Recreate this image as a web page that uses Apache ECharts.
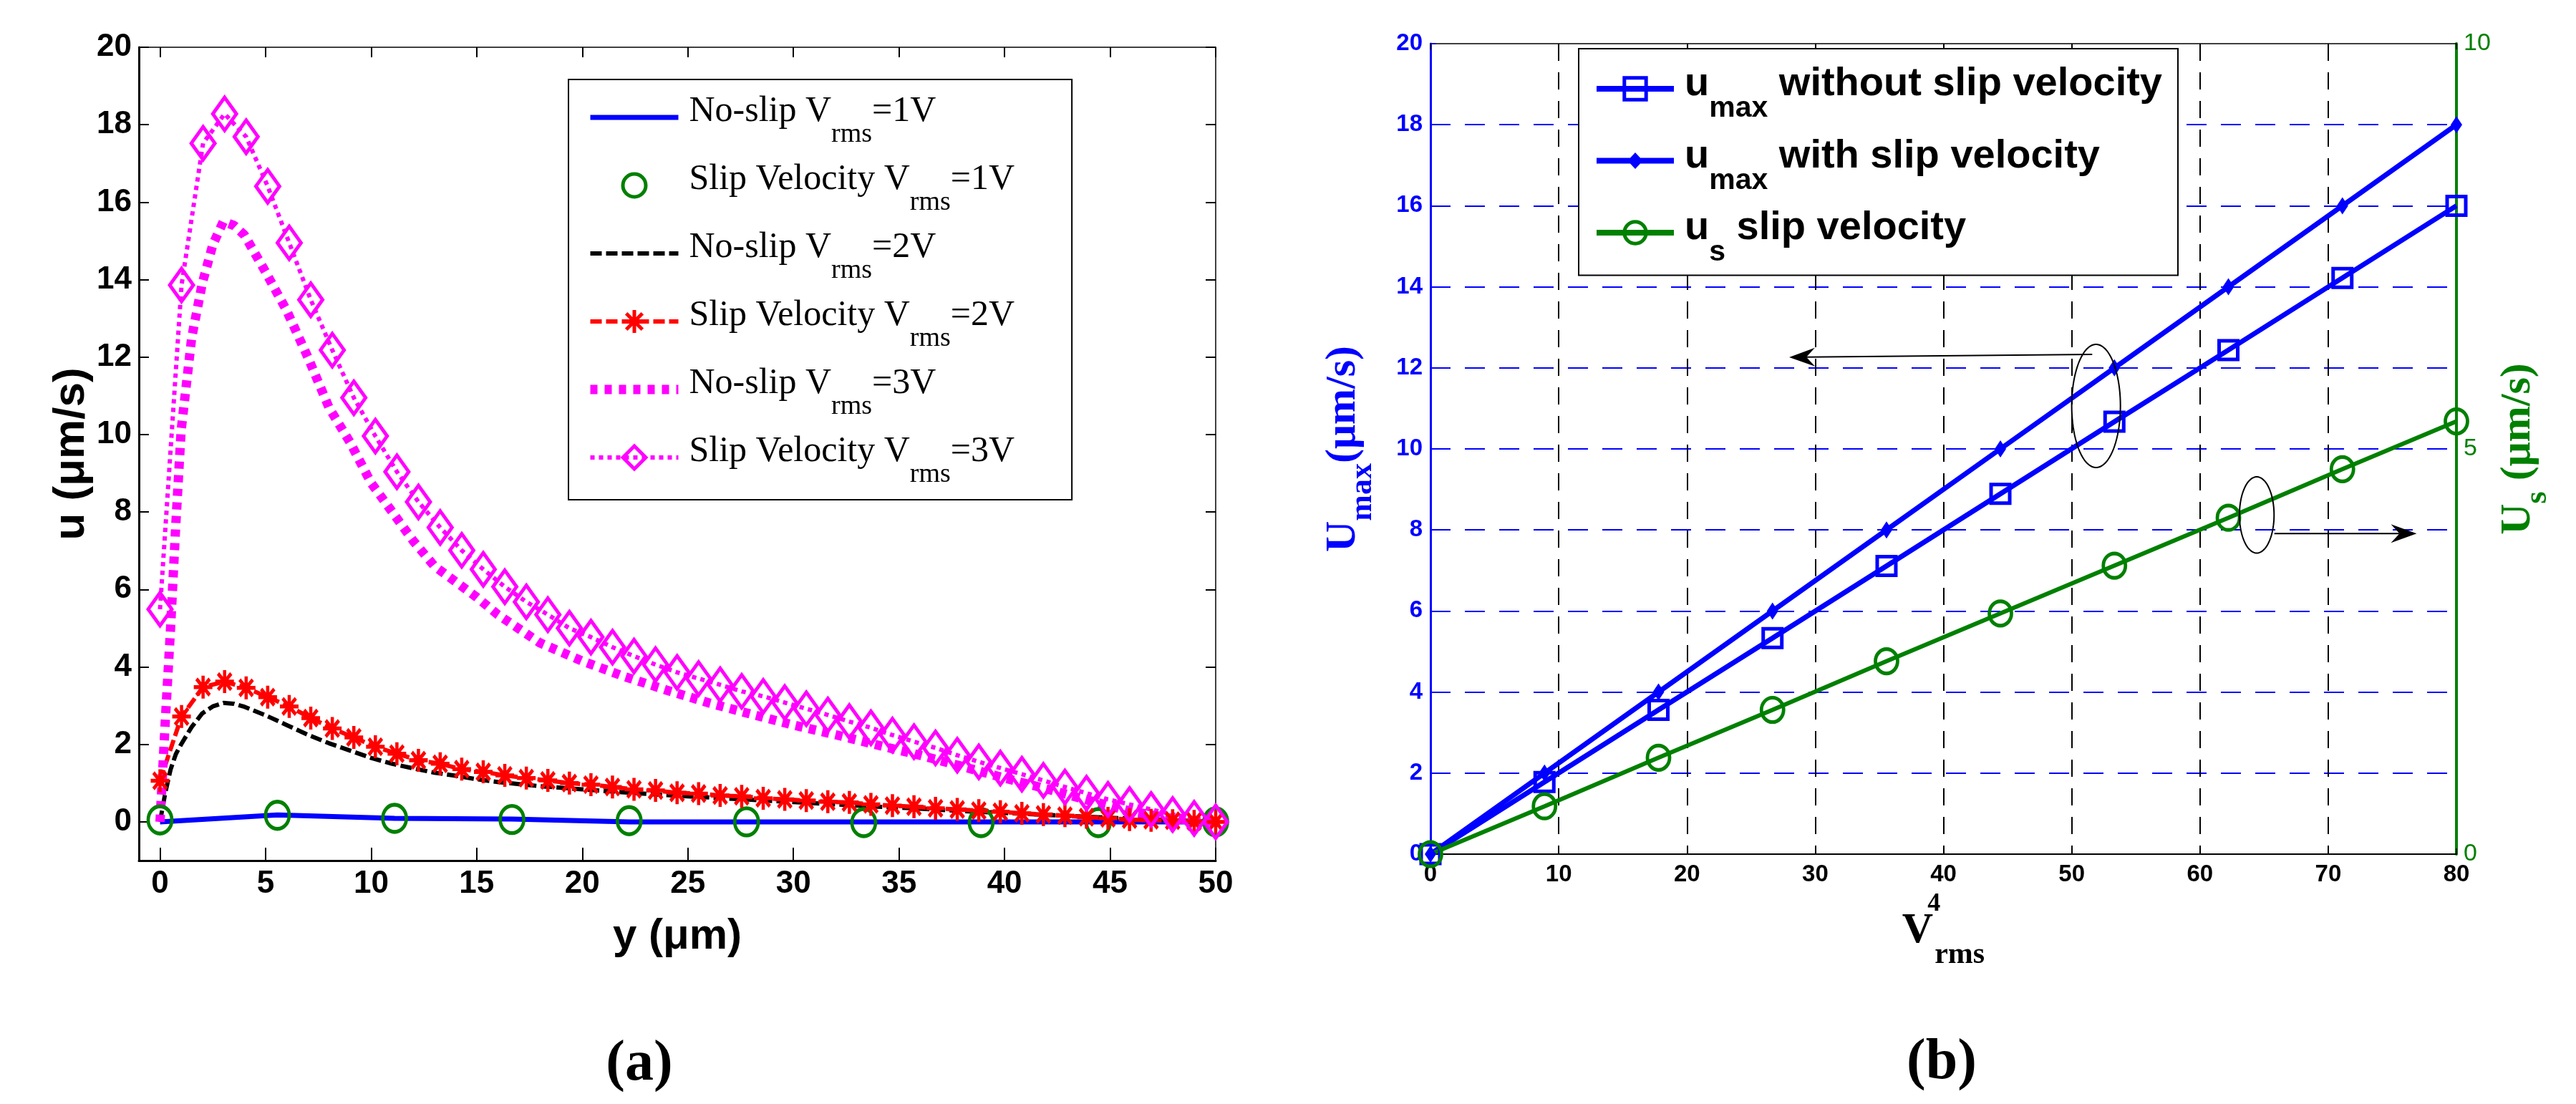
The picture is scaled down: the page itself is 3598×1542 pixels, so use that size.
<!DOCTYPE html>
<html>
<head>
<meta charset="utf-8">
<script src="https://cdn.jsdelivr.net/npm/echarts@6/dist/echarts.min.js"></script>
<style>
html,body{margin:0;padding:0;background:#fff;}
#c{width:3598px;height:1542px;}
</style>
</head>
<body>
<div id="c"></div>
<script>
// ---------------- DATA (panel a) ----------------
const xFine = [0, 1.02, 2.04, 3.06, 4.08, 5.1, 6.12, 7.14, 8.16, 9.18, 10.2, 11.22, 12.24, 13.27, 14.29, 15.31, 16.33, 17.35, 18.37, 19.39, 20.41, 21.43, 22.45, 23.47, 24.49, 25.51, 26.53, 27.55, 28.57, 29.59, 30.61, 31.63, 32.65, 33.67, 34.69, 35.71, 36.73, 37.76, 38.78, 39.8, 40.82, 41.84, 42.86, 43.88, 44.9, 45.92, 46.94, 47.96, 48.98, 50];
const slip3V = [5.49, 13.86, 17.52, 18.28, 17.69, 16.41, 14.95, 13.48, 12.18, 10.95, 9.96, 9.04, 8.26, 7.6, 7.01, 6.52, 6.07, 5.68, 5.35, 5.0, 4.77, 4.51, 4.28, 4.06, 3.86, 3.7, 3.54, 3.37, 3.24, 3.08, 2.92, 2.76, 2.59, 2.43, 2.24, 2.07, 1.91, 1.72, 1.55, 1.39, 1.23, 1.07, 0.9, 0.74, 0.58, 0.45, 0.32, 0.19, 0.09, 0.0];
const slip2V = [1.06, 2.72, 3.48, 3.62, 3.46, 3.22, 2.98, 2.68, 2.41, 2.18, 1.94, 1.76, 1.59, 1.5, 1.36, 1.29, 1.2, 1.13, 1.07, 1.0, 0.96, 0.9, 0.84, 0.81, 0.75, 0.73, 0.68, 0.66, 0.61, 0.58, 0.55, 0.52, 0.5, 0.45, 0.42, 0.39, 0.35, 0.32, 0.29, 0.26, 0.22, 0.19, 0.16, 0.12, 0.09, 0.06, 0.04, 0.03, 0.01, 0.0];
const xNoSlip = [0, 0.25, 0.5, 0.75, 1, 1.5, 2, 2.5, 3, 3.5, 4, 5, 6, 7, 8, 9, 10, 11, 12, 13, 14, 15, 16, 18, 20, 22, 24, 26, 28, 30, 32, 34, 36, 38, 40, 42, 44, 46, 48, 50];
const noSlip3V = [0, 2.6, 5.0, 7.7, 10.1, 12.5, 13.9, 14.9, 15.5, 15.4, 15.15, 14.2, 13.2, 12.0, 10.7, 9.8, 8.75, 8.0, 7.25, 6.6, 6.2, 5.8, 5.35, 4.62, 4.15, 3.75, 3.4, 3.07, 2.78, 2.5, 2.25, 1.98, 1.72, 1.43, 1.13, 0.85, 0.55, 0.27, 0.08, 0];
const noSlip2V = [0, 0.75, 1.35, 1.75, 2.0, 2.45, 2.8, 2.98, 3.07, 3.05, 2.97, 2.75, 2.5, 2.25, 2.03, 1.84, 1.65, 1.5, 1.38, 1.27, 1.19, 1.1, 1.03, 0.92, 0.84, 0.76, 0.69, 0.63, 0.57, 0.51, 0.45, 0.39, 0.34, 0.28, 0.23, 0.18, 0.13, 0.08, 0.04, 0];
const xCoarse = [0, 5.56, 11.11, 16.67, 22.22, 27.78, 33.33, 38.89, 44.44, 50];
const noSlip1V = [0, 0.18, 0.09, 0.07, 0, 0, 0, 0, 0, 0];
const slip1V = [0.05, 0.17, 0.09, 0.06, 0.03, 0, -0.02, -0.02, -0.02, 0];
const xTicksA = [0, 5, 10, 15, 20, 25, 30, 35, 40, 45, 50];
const yTicksA = [0, 2, 4, 6, 8, 10, 12, 14, 16, 18, 20];
const namesA = ['No-slip Vrms=1V', 'Slip Velocity Vrms=1V', 'No-slip Vrms=2V', 'Slip Velocity Vrms=2V', 'No-slip Vrms=3V', 'Slip Velocity Vrms=3V'];

// ---------------- DATA (panel b) ----------------
const xV4 = [0, 8.89, 17.78, 26.67, 35.56, 44.44, 53.33, 62.22, 71.11, 80];
const umaxNoSlip = [0, 1.78, 3.56, 5.33, 7.11, 8.89, 10.67, 12.44, 14.22, 16];
const umaxSlip = [0, 2, 4, 6, 8, 10, 12, 14, 16, 18];
const usSlip = [0, 0.59, 1.19, 1.78, 2.38, 2.97, 3.56, 4.15, 4.75, 5.34];
const namesB = ['umax without slip velocity', 'umax with slip velocity', 'us slip velocity'];
// annotation marks in data units of panel b (left axis)
const annEllipses = [[51.9, 11.06, 1.9, 1.52], [64.43, 8.37, 1.35, 0.94]];
const annArrows = [[51.6, 12.33, 27.97, 12.26], [65.8, 7.91, 76.9, 7.91]];

// ---------------- CHART ----------------
const zip = (xs, ys) => xs.map((x, i) => [x, ys[i]]);
const BLUE = '#0000ff', GREEN = '#008000', RED = '#ff0000', MAG = '#ff00ff', T = 'rgba(0,0,0,0)';
const SANS = '"Liberation Sans", Arial, sans-serif';
const SERIF = '"Liberation Serif", "Times New Roman", serif';
const ASTERISK = 'path://M12,0L12,24M0,12L24,12M3.5,3.5L20.5,20.5M3.5,20.5L20.5,3.5';
const LEG_DIAMOND_LINE = 'path://M0,15L47,15L54,7.5L61,15L108,15L108,23L61,23L54,30.5L47,23L0,23Z';

const chart = echarts.init(document.getElementById('c'), null, {renderer: 'canvas', width: 3598, height: 1542});

function renderEllipse(params, api) {
  const c = api.coord([api.value(0), api.value(1)]);
  const s = api.size([api.value(2), api.value(3)]);
  const rx = Math.abs(s[0]), ry = Math.abs(s[1]);
  const pts = [];
  for (let k = 0; k <= 90; k++) {
    const t = k / 90 * Math.PI * 2;
    pts.push([c[0] + rx * Math.cos(t), c[1] + ry * Math.sin(t)]);
  }
  return {type: 'polyline', shape: {points: pts}, style: {fill: 'none', stroke: '#000', lineWidth: 2}};
}
function renderArrow(params, api) {
  const p1 = api.coord([api.value(0), api.value(1)]);
  const p2 = api.coord([api.value(2), api.value(3)]);
  const dx = p2[0] - p1[0], dy = p2[1] - p1[1];
  const len = Math.sqrt(dx * dx + dy * dy);
  const ux = dx / len, uy = dy / len, px = -uy, py = ux;
  const L = 36, W = 13, N = 24;
  const back = [p2[0] - ux * L, p2[1] - uy * L];
  const notch = [p2[0] - ux * N, p2[1] - uy * N];
  return {
    type: 'group',
    children: [
      {type: 'line', shape: {x1: p1[0], y1: p1[1], x2: notch[0], y2: notch[1]}, style: {stroke: '#000', lineWidth: 2}},
      {type: 'polygon', shape: {points: [p2, [back[0] + px * W, back[1] + py * W], notch, [back[0] - px * W, back[1] - py * W]]}, style: {fill: '#000'}}
    ]
  };
}

const legendARich = {
  m: {fontFamily: SERIF, fontSize: 50, height: 74, lineHeight: 74, verticalAlign: 'top', color: '#000'},
  s: {fontFamily: SERIF, fontSize: 38, height: 42, lineHeight: 42, verticalAlign: 'bottom', color: '#000'},
  p: {fontSize: 10, lineHeight: 90, verticalAlign: 'middle'}
};
const legendBRich = {
  m: {fontFamily: SANS, fontWeight: 'bold', fontSize: 56, height: 84, lineHeight: 84, verticalAlign: 'top', color: '#000'},
  s: {fontFamily: SANS, fontWeight: 'bold', fontSize: 41, height: 40, lineHeight: 40, verticalAlign: 'bottom', color: '#000'},
  p: {fontSize: 10, lineHeight: 96, verticalAlign: 'middle'}
};

const option = {
  backgroundColor: '#fff',
  animation: false,
  textStyle: {fontFamily: SANS},
  grid: [
    {left: 194, top: 66, width: 1504, height: 1136},
    {left: 1998, top: 61, width: 1433, height: 1132}
  ],
  xAxis: [
    {
      gridIndex: 0, type: 'value', position: 'bottom', min: -1, max: 50,
      axisLine: {onZero: false, lineStyle: {color: '#000', width: 3}},
      axisTick: {inside: true, length: 18, customValues: xTicksA, lineStyle: {color: '#000', width: 2}},
      axisLabel: {customValues: xTicksA, fontSize: 44, fontWeight: 'bold', color: '#000', margin: 11, fontFamily: SANS},
      splitLine: {show: false},
      name: 'y (μm)', nameLocation: 'middle', nameGap: 76,
      nameTextStyle: {fontSize: 60, fontWeight: 'bold', color: '#000', lineHeight: 60, fontFamily: SANS}
    },
    {
      gridIndex: 0, type: 'value', position: 'top', min: -1, max: 50,
      axisLine: {onZero: false, lineStyle: {color: '#000', width: 1.5}},
      axisTick: {inside: true, length: 14, customValues: xTicksA, lineStyle: {color: '#000', width: 2}},
      axisLabel: {show: false}, splitLine: {show: false}
    },
    {
      gridIndex: 1, type: 'value', position: 'bottom', min: 0, max: 80, interval: 10,
      axisLine: {onZero: false, lineStyle: {color: '#000', width: 2}},
      axisTick: {inside: true, length: 8, lineStyle: {color: '#000', width: 1.5}},
      axisLabel: {fontSize: 33, fontWeight: 'bold', color: '#000', margin: 12, fontFamily: SANS},
      splitLine: {show: true, showMinLine: false, showMaxLine: false, lineStyle: {color: '#000', width: 2, type: [24, 16]}},
      name: '{v|V}{sup|4}{sub|rms}', nameLocation: 'middle', nameGap: 52,
      nameTextStyle: {
        rich: {
          v: {fontFamily: SERIF, fontWeight: 'bold', fontSize: 60, lineHeight: 110, verticalAlign: 'middle', color: '#000'},
          sup: {fontFamily: SERIF, fontWeight: 'bold', fontSize: 36, lineHeight: 82, verticalAlign: 'top', width: 2, color: '#000'},
          sub: {fontFamily: SERIF, fontWeight: 'bold', fontSize: 42, lineHeight: 28, verticalAlign: 'bottom', color: '#000'}
        }
      }
    },
    {
      gridIndex: 1, type: 'value', position: 'top', min: 0, max: 80, interval: 10,
      axisLine: {onZero: false, lineStyle: {color: '#000', width: 1.5}},
      axisTick: {inside: true, length: 8, lineStyle: {color: '#000', width: 1.5}},
      axisLabel: {show: false}, splitLine: {show: false}
    }
  ],
  yAxis: [
    {
      gridIndex: 0, type: 'value', position: 'left', min: -1, max: 20,
      axisLine: {onZero: false, lineStyle: {color: '#000', width: 3}},
      axisTick: {inside: true, length: 14, customValues: yTicksA, lineStyle: {color: '#000', width: 2}},
      axisLabel: {customValues: yTicksA, fontSize: 44, fontWeight: 'bold', color: '#000', margin: 10, fontFamily: SANS},
      splitLine: {show: false},
      name: 'u (μm/s)', nameLocation: 'middle', nameGap: 63, nameRotate: 90,
      nameTextStyle: {fontSize: 62, fontWeight: 'bold', color: '#000', lineHeight: 62, fontFamily: SANS}
    },
    {
      gridIndex: 0, type: 'value', position: 'right', min: -1, max: 20,
      axisLine: {onZero: false, lineStyle: {color: '#000', width: 1.5}},
      axisTick: {inside: true, length: 14, customValues: yTicksA, lineStyle: {color: '#000', width: 2}},
      axisLabel: {show: false}, splitLine: {show: false}
    },
    {
      gridIndex: 1, type: 'value', position: 'left', min: 0, max: 20, interval: 2,
      axisLine: {onZero: false, lineStyle: {color: BLUE, width: 3}},
      axisTick: {inside: true, length: 8, lineStyle: {color: BLUE, width: 1.5}},
      axisLabel: {fontSize: 33, fontWeight: 'bold', color: BLUE, margin: 11, fontFamily: SANS},
      splitLine: {show: true, showMinLine: false, showMaxLine: false, lineStyle: {color: BLUE, width: 2, type: [28, 20]}},
      name: '{U|U}{sub|max}{n|(μm/s)}', nameLocation: 'middle', nameGap: 72, nameRotate: 90,
      nameTextStyle: {
        color: BLUE,
        rich: {
          U: {fontFamily: SERIF, fontWeight: 'bold', fontSize: 60, lineHeight: 100, verticalAlign: 'middle', color: BLUE},
          sub: {fontFamily: SERIF, fontWeight: 'bold', fontSize: 44, lineHeight: 26, verticalAlign: 'bottom', color: BLUE},
          n: {fontFamily: SERIF, fontWeight: 'bold', fontSize: 60, lineHeight: 100, verticalAlign: 'middle', color: BLUE}
        }
      }
    },
    {
      gridIndex: 1, type: 'value', position: 'right', min: 0, max: 10, interval: 5,
      axisLine: {onZero: false, lineStyle: {color: GREEN, width: 4}},
      axisTick: {show: false},
      axisLabel: {fontSize: 34, color: GREEN, margin: 10, fontFamily: SANS},
      splitLine: {show: false},
      name: '{U|U}{sub|s}{n| (μm/s)}', nameLocation: 'middle', nameGap: 36, nameRotate: 90,
      nameTextStyle: {
        color: GREEN,
        rich: {
          U: {fontFamily: SERIF, fontWeight: 'bold', fontSize: 60, lineHeight: 100, verticalAlign: 'middle', color: GREEN},
          sub: {fontFamily: SERIF, fontWeight: 'bold', fontSize: 44, lineHeight: 22, verticalAlign: 'bottom', color: GREEN},
          n: {fontFamily: SERIF, fontWeight: 'bold', fontSize: 60, lineHeight: 100, verticalAlign: 'middle', color: GREEN}
        }
      }
    }
  ],
  legend: [
    {
      data: [
        {name: namesA[0], itemStyle: {opacity: 0}, lineStyle: {color: BLUE, width: 7, type: 'solid'}},
        {name: namesA[1], itemStyle: {borderColor: GREEN, borderWidth: 5}, lineStyle: {width: 0, opacity: 0}},
        {name: namesA[2], itemStyle: {opacity: 0}, lineStyle: {color: '#000', width: 6, type: [16, 6]}},
        {name: namesA[3], itemStyle: {borderColor: RED, borderWidth: 5}, lineStyle: {color: RED, width: 6, type: [16, 6]}},
        {name: namesA[4], itemStyle: {opacity: 0}, lineStyle: {color: MAG, width: 13, type: [10, 10]}},
        {name: namesA[5], itemStyle: {borderColor: MAG, borderWidth: 5}, lineStyle: {color: MAG, width: 6, type: [6, 6]}}
      ],
      orient: 'vertical', left: 794, top: 111,
      itemWidth: 123, itemHeight: 40, itemGap: 5,
      padding: [8, 80, 14, 24],
      backgroundColor: '#fff', borderColor: '#000', borderWidth: 2,
      selectedMode: false,
      formatter: function (name) {
        const m = name.match(/^(.*) Vrms=(\dV)$/);
        return '{m|' + m[1] + ' V}{s|rms}{m|=' + m[2] + '}{p|\u200b}';
      },
      textStyle: {padding: [0, 0, 0, 10], rich: legendARich}
    },
    {
      data: [
        {name: namesB[0], itemStyle: {borderColor: BLUE, borderWidth: 5}, lineStyle: {color: BLUE, width: 8, type: 'solid'}},
        {name: namesB[1], icon: LEG_DIAMOND_LINE, itemStyle: {color: BLUE, borderWidth: 0}},
        {name: namesB[2], itemStyle: {borderColor: GREEN, borderWidth: 5}, lineStyle: {color: GREEN, width: 8, type: 'solid'}}
      ],
      orient: 'vertical', left: 2205, top: 68,
      itemWidth: 108, itemHeight: 38, itemGap: 4,
      padding: [8, 22, 11, 21],
      backgroundColor: '#fff', borderColor: '#000', borderWidth: 2,
      selectedMode: false,
      formatter: function (name) {
        if (name.indexOf('umax') === 0) return '{m|u}{s|max}{m|' + name.slice(4) + '}{p|\u200b}';
        return '{m|u}{s|s}{m|' + name.slice(2) + '}{p|\u200b}';
      },
      textStyle: {padding: [0, 0, 0, 10], rich: legendBRich}
    }
  ],
  graphic: [
    {type: 'text', x: 893, y: 1487, style: {text: '(a)', font: 'bold 80px "Liberation Serif", serif', fill: '#000', textAlign: 'center', textVerticalAlign: 'middle'}},
    {type: 'text', x: 2712, y: 1485, style: {text: '(b)', font: 'bold 80px "Liberation Serif", serif', fill: '#000', textAlign: 'center', textVerticalAlign: 'middle'}}
  ],
  series: [
    {
      name: namesA[0], type: 'line', xAxisIndex: 0, yAxisIndex: 0, data: zip(xCoarse, noSlip1V),
      symbol: 'none', itemStyle: {color: T}, lineStyle: {color: BLUE, width: 7}
    },
    {
      name: namesA[1], type: 'line', xAxisIndex: 0, yAxisIndex: 0, data: zip(xCoarse, slip1V),
      symbol: 'circle', symbolSize: [33, 38],
      itemStyle: {color: T, borderColor: GREEN, borderWidth: 5},
      lineStyle: {color: T, width: 0}
    },
    {
      name: namesA[2], type: 'line', xAxisIndex: 0, yAxisIndex: 0, data: zip(xNoSlip, noSlip2V),
      symbol: 'none', itemStyle: {color: T}, lineStyle: {color: '#000', width: 6, type: [16, 6]}
    },
    {
      name: namesA[3], type: 'line', xAxisIndex: 0, yAxisIndex: 0, data: zip(xFine, slip2V),
      symbol: ASTERISK, symbolSize: [26, 32],
      itemStyle: {color: T, borderColor: RED, borderWidth: 5},
      lineStyle: {color: RED, width: 6, type: [16, 6]}
    },
    {
      name: namesA[4], type: 'line', xAxisIndex: 0, yAxisIndex: 0, data: zip(xNoSlip, noSlip3V),
      symbol: 'none', itemStyle: {color: T}, lineStyle: {color: MAG, width: 13, type: [10, 9]}
    },
    {
      name: namesA[5], type: 'line', xAxisIndex: 0, yAxisIndex: 0, data: zip(xFine, slip3V),
      symbol: 'diamond', symbolSize: [33, 46],
      itemStyle: {color: T, borderColor: MAG, borderWidth: 5},
      lineStyle: {color: MAG, width: 6, type: [6, 6]}
    },
    {
      name: namesB[0], type: 'line', xAxisIndex: 2, yAxisIndex: 2, data: zip(xV4, umaxNoSlip),
      symbol: 'rect', symbolSize: 26,
      itemStyle: {color: T, borderColor: BLUE, borderWidth: 5},
      lineStyle: {color: BLUE, width: 7}
    },
    {
      name: namesB[1], type: 'line', xAxisIndex: 2, yAxisIndex: 2, data: zip(xV4, umaxSlip),
      symbol: 'diamond', symbolSize: [16, 24],
      itemStyle: {color: BLUE},
      lineStyle: {color: BLUE, width: 7}
    },
    {
      name: namesB[2], type: 'line', xAxisIndex: 2, yAxisIndex: 3, data: zip(xV4, usSlip),
      symbol: 'circle', symbolSize: [31, 34],
      itemStyle: {color: T, borderColor: GREEN, borderWidth: 5},
      lineStyle: {color: GREEN, width: 6}
    },
    {
      name: 'annotation ellipses', type: 'custom', coordinateSystem: 'cartesian2d',
      xAxisIndex: 2, yAxisIndex: 2, data: annEllipses, renderItem: renderEllipse,
      silent: true, z: 5, clip: false
    },
    {
      name: 'annotation arrows', type: 'custom', coordinateSystem: 'cartesian2d',
      xAxisIndex: 2, yAxisIndex: 2, data: annArrows, renderItem: renderArrow,
      silent: true, z: 5, clip: false
    }
  ]
};
chart.setOption(option);
</script>
</body>
</html>
